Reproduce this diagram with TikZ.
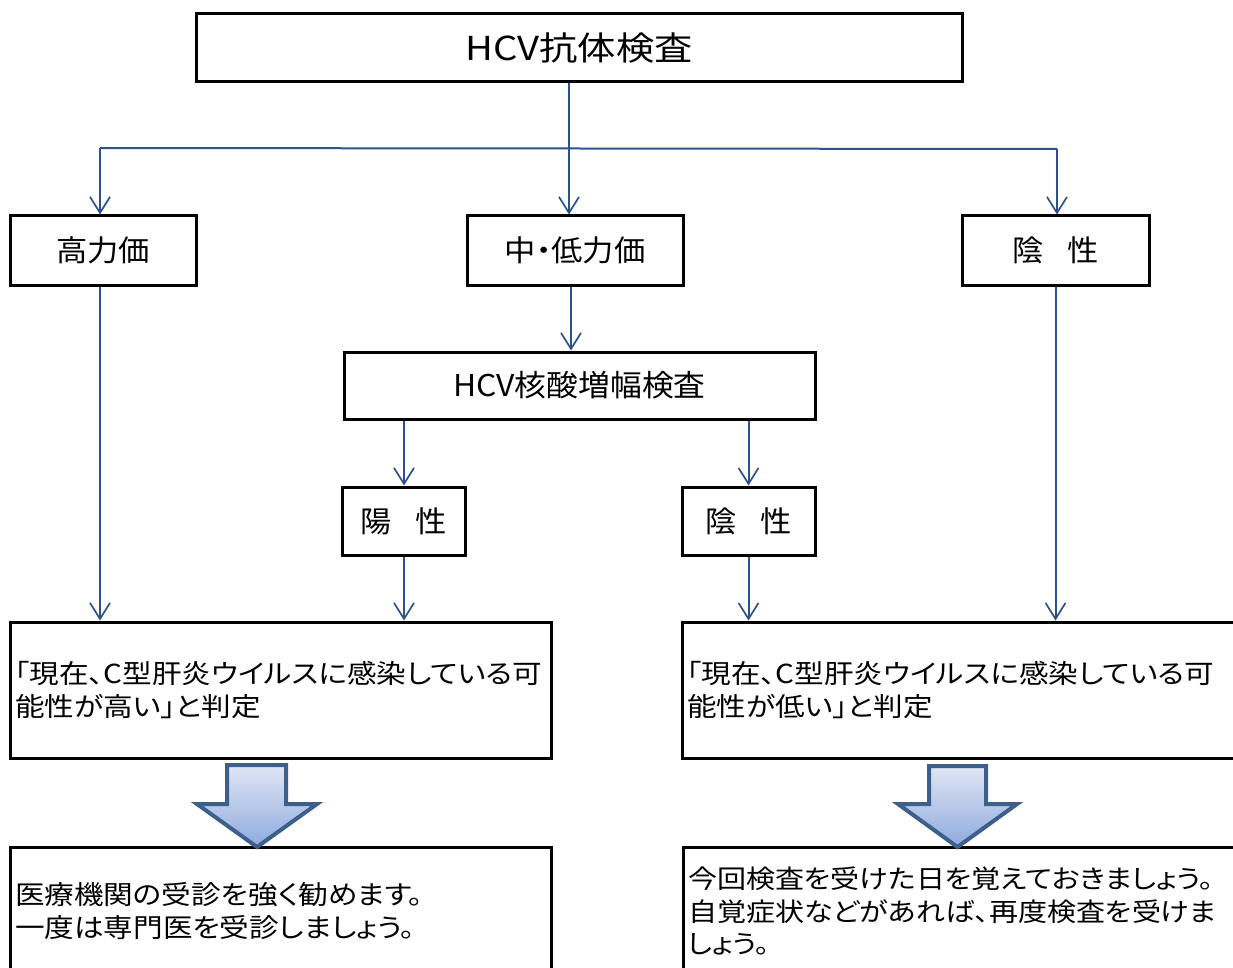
\documentclass[tikz,border=0pt]{standalone}
\usepackage{fontspec}
\setmainfont{Noto Sans CJK JP}[FakeStretch=1.06]
\newfontfamily\titlefont{Noto Sans CJK JP}[FakeStretch=1.16]
\newfontfamily\resfont{Noto Sans CJK JP}[FakeStretch=1.13,RawFeature=+palt]
\usetikzlibrary{arrows.meta}
\definecolor{connc}{RGB}{44,82,140}
\definecolor{barrow}{RGB}{60,95,140}
\definecolor{btop}{RGB}{224,230,244}
\definecolor{bbot}{RGB}{143,170,222}
\newcommand\restext{\resfont\fontsize{26.2}{32.7}\selectfont}
\newcommand\lvltext{\fontsize{29.5}{34}\selectfont}
\begin{document}
\begin{tikzpicture}[x=1pt,y=-1pt,
  box/.style={draw=black, line width=3pt, rectangle, inner sep=0pt},
  conn/.style={draw=connc, line width=2pt},
  arr/.style={conn, -{Straight Barb[length=16pt,width=20pt,line width=1.7pt]}},
  bigarrow/.style={draw=barrow, line width=4pt, line join=miter, top color=btop, bottom color=bbot},
  restbox/.style={box, align=left, inner xsep=5pt, font=\restext}]
\useasboundingbox (0,0) rectangle (1233,968);

\node[box, minimum width=766, minimum height=68, font=\titlefont\fontsize{33}{40}\selectfont] (top) at (579,48) {HCV抗体検査};
\node[box, minimum width=186, minimum height=69, font=\lvltext] (hi) at (103,250.5) {高力価};
\node[box, minimum width=216, minimum height=69, font=\lvltext] (mid) at (575,250.5) {中{\addfontfeatures{RawFeature=+palt}・}低力価};
\node[box, minimum width=187, minimum height=69, font=\lvltext] (negR) at (1055.5,250.5) {陰\hspace{0.8em}性};
\node[box, minimum width=471, minimum height=67, font=\fontsize{30}{34}\selectfont] (nat) at (579.5,385.5) {HCV核酸増幅検査};
\node[box, minimum width=123, minimum height=68, font=\lvltext] (pos) at (404,521) {陽\hspace{0.8em}性};
\node[box, minimum width=133, minimum height=68, font=\lvltext] (negM) at (748.5,521) {陰\hspace{0.8em}性};

\node[restbox, text width=531, minimum height=136] (resL) at (280.5,690)
  {「現在、C型肝炎ウイルスに感染している可\\能性が高い」と判定};
\node[restbox, text width=548, minimum height=136] (resR) at (961,690)
  {「現在、C型肝炎ウイルスに感染している可\\能性が低い」と判定};
\node[restbox, text width=531, minimum height=128] (botL) at (280.5,911)
  {医療機関の受診を強く勧めます。\\一度は専門医を受診しましょう。};
\node[restbox, text width=547, minimum height=128, font=\resfont\fontsize{25.7}{32.5}\selectfont] (botR) at (961.5,911)
  {今回検査を受けた日を覚えておきましょう。\\自覚症状などがあれば、再度検査を受けま\\しょう。};

\coordinate (j) at (569,148);
\coordinate (jl) at (100,148);
\coordinate (jr) at (1057,149);
\coordinate (m) at (571,285);
\draw[conn] (top.south -| j) -- (j);
\draw[conn] (jl) -- (jr);
\draw[arr] (jl) -- (jl |- hi.north);
\draw[arr] (j) -- (j |- mid.north);
\draw[arr] (jr) -- (jr |- negR.north);
\draw[arr] (m |- mid.south) -- (m |- nat.north);
\draw[arr] (pos.north |- nat.south) -- (pos.north);
\draw[arr] (negM.north |- nat.south) -- (negM.north);
\draw[arr] (jl |- hi.south) -- (jl |- resL.north);
\draw[arr] (pos.south) -- (pos.south |- resL.north);
\draw[arr] (negM.south) -- (negM.south |- resR.north);
\draw[arr] (negR.south) -- (negR.south |- resR.north);

\path[bigarrow] (227,765) -- (286,765) -- (286,804) -- (317,804) -- (257,847) -- (197,804) -- (227,804) -- cycle;
\path[bigarrow] (929,766) -- (986,766) -- (986,804) -- (1017,804) -- (957.5,847) -- (898,804) -- (929,804) -- cycle;
\end{tikzpicture}
\end{document}
